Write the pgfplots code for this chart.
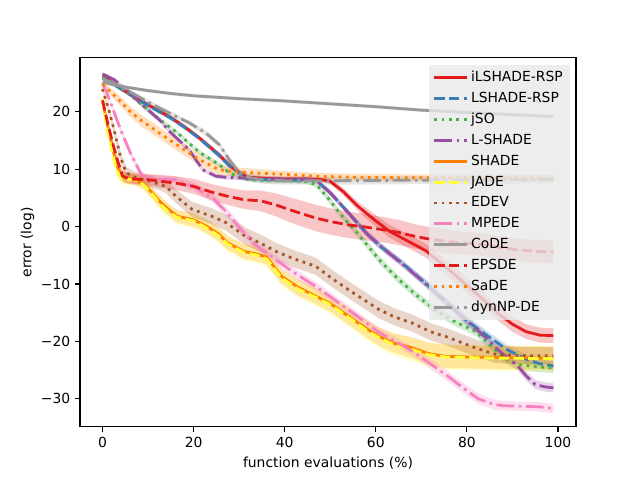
\documentclass[border=0pt]{standalone}
\usepackage{pgfplots}
\pgfplotsset{compat=1.18}
\usepackage{pgfplotstable}
\usepgfplotslibrary{fillbetween}
\usepackage{fontspec}
\setmainfont{DejaVu Sans}
\definecolor{cred}{HTML}{E41A1C}
\definecolor{cblue}{HTML}{377EB8}
\definecolor{cgreen}{HTML}{4DAF4A}
\definecolor{cpurple}{HTML}{984EA3}
\definecolor{corange}{HTML}{FF7F00}
\definecolor{cyellow}{HTML}{FFFF33}
\definecolor{cbrown}{HTML}{A65628}
\definecolor{cpink}{HTML}{F781BF}
\definecolor{cgray}{HTML}{999999}

\pgfplotstableread{
x y e
0 26.3 0.3
5 23.6 0.4
9.6 21.4 0.4
15 19.0 0.4
18 17.4 0.4
21.2 15.5 0.4
25.6 12.5 0.5
28 10.6 0.5
30 9.4 0.5
32 8.6 0.4
36 8.4 0.4
40 8.3 0.4
45 8.3 0.4
48 8.2 0.4
50 7.9 0.5
53 6.0 0.6
56 3.6 0.8
60 1.0 1.0
63 -0.8 1.1
67 -2.5 1.2
71 -4.2 1.2
75 -6.8 1.3
80 -10.2 1.3
84 -13.0 1.3
87 -15.2 1.3
90 -17.0 1.3
93 -18.3 1.3
96 -18.9 1.3
99 -19.0 1.3
}\tA
\pgfplotstableread{
x y e
0 26.0 0.3
5 23.5 0.4
9.6 21.3 0.4
15 18.9 0.4
18 17.3 0.4
21.2 15.4 0.4
25.6 12.4 0.5
28 10.5 0.5
30 9.3 0.5
32 8.5 0.4
36 8.2 0.4
40 8.1 0.4
45 8.1 0.4
47 8.0 0.4
50 5.9 0.5
54 2.4 0.5
58 -1.2 0.6
61 -3.4 0.6
66 -6.5 0.6
71 -9.9 0.7
75 -12.8 0.7
80 -16.4 0.8
85 -19.3 0.8
89 -21.5 0.8
93 -23.1 0.8
96 -23.9 0.8
99 -24.3 0.8
}\tB
\pgfplotstableread{
x y e
0 26.0 0.3
3 24.8 0.3
5.5 23.3 0.3
9 21.0 0.4
12.8 18.5 0.4
16.8 16.1 0.4
18.6 14.8 0.4
21.2 13.0 0.4
25.6 10.8 0.4
27.5 9.6 0.4
29.6 8.7 0.4
32 8.2 0.4
36 8.0 0.4
40 8.0 0.4
43 7.9 0.4
45 7.8 0.4
47 7.3 0.5
50 4.5 0.6
52 2.4 0.6
55 -0.3 0.6
58 -3.1 0.7
61 -6.0 0.7
65 -9.2 0.7
69 -12.0 0.7
73 -14.5 0.7
77 -16.4 0.8
82 -18.3 0.8
85 -20.6 0.8
88 -22.8 0.9
91 -24.0 0.9
95 -24.4 0.9
99 -24.6 0.9
}\tC
\pgfplotstableread{
x y e
0 26.6 0.3
2.6 25.6 0.3
6 23.3 0.4
9 21.0 0.4
12.5 18.6 0.4
14.7 16.6 0.4
19 13.4 0.4
22 9.9 0.4
24.9 8.8 0.4
27 8.6 0.4
30 8.5 0.4
35 8.3 0.4
40 8.3 0.4
45 8.3 0.4
47 8.0 0.4
50 5.9 0.5
54 2.4 0.5
58 -1.2 0.5
61 -3.4 0.6
66 -6.6 0.6
71 -10.0 0.6
75 -12.9 0.7
80 -16.4 0.7
84.7 -19.7 0.8
87 -21.6 0.8
91.2 -24.3 0.8
93 -26.0 0.8
95 -27.5 0.8
97 -27.9 0.8
99 -28.1 0.8
}\tD
\pgfplotstableread{
x y e
0 22.0 0.5
1 18.0 0.8
2 14.5 1.0
3 11.0 1.0
4 9.0 1.0
5 8.5 1.0
7 8.3 1.0
9 7.5 1.0
11 5.8 1.0
12.8 4.2 1.0
14.5 3.0 1.0
16.4 1.8 1.1
20 1.2 1.2
23 0.0 1.2
25.5 -1.3 1.2
27.4 -2.8 1.2
31 -4.3 1.3
34 -4.8 1.3
36 -5.3 1.3
39.4 -8.7 1.3
43 -10.6 1.4
46.8 -12.1 1.4
50 -13.4 1.4
54 -15.6 1.5
58 -17.8 1.5
60.6 -19.1 1.6
64 -20.3 1.7
67.9 -21.1 1.8
71.5 -22.1 1.9
75.2 -22.6 2.0
85 -22.8 2.0
99 -22.9 2.0
}\tE
\pgfplotstableread{
x y e
0 22.3 0.5
1 17.0 0.8
2 13.5 1.0
3 10.0 1.0
4 8.5 1.0
5 8.2 1.0
7 8.2 1.0
9 7.3 1.0
11 5.6 1.1
12.8 3.8 1.2
14.5 2.6 1.2
16.4 1.6 1.2
20 1.0 1.2
23 -0.3 1.2
25.5 -1.6 1.3
27.4 -3.0 1.3
31 -4.5 1.4
34 -5.0 1.4
36 -5.6 1.4
39.4 -9.0 1.4
43 -10.9 1.5
46.8 -12.3 1.5
50 -13.6 1.6
54 -15.8 1.6
58 -18.1 1.7
60.6 -19.3 1.8
64 -20.6 1.9
67.9 -21.4 2.0
71.5 -22.3 2.1
75.2 -22.7 2.2
85 -22.9 2.2
99 -23.0 2.2
}\tF
\pgfplotstableread{
x y e
0 24.0 0.4
1.5 20.0 0.6
2.6 16.6 0.8
4 12.0 0.9
5.2 9.4 1.0
7 8.6 1.0
8.8 8.2 1.0
11 7.8 1.0
13.9 7.0 1.1
16.1 5.3 1.2
19.7 3.0 1.3
24 1.8 1.4
27.1 0.7 1.4
31.4 -1.7 1.5
35 -3.0 1.5
38 -4.3 1.5
42 -5.6 1.5
46.8 -6.9 1.5
50 -8.8 1.5
54 -11.0 1.5
57.5 -12.8 1.5
60.6 -14.4 1.5
64 -15.7 1.5
68 -16.8 1.5
72 -18.3 1.5
75.9 -19.3 1.5
78.8 -20.2 1.5
82.5 -21.3 1.5
86 -22.2 1.5
90.5 -22.4 1.5
95 -22.5 1.5
99 -22.5 1.5
}\tG
\pgfplotstableread{
x y e
0 25.0 0.4
1.1 23.0 0.5
2.5 20.0 0.6
4.1 16.6 0.6
6.3 12.5 0.6
8.5 9.1 0.6
10 8.4 0.6
13 8.3 0.6
15.8 8.2 0.6
20.1 7.0 0.7
24.5 4.7 0.7
27.4 2.4 0.8
30.4 -0.5 0.8
33.3 -3.0 0.8
37.6 -5.5 0.8
42 -8.0 0.8
46.8 -10.4 0.8
50 -12.2 0.8
54 -14.5 0.8
58 -16.8 0.8
60.6 -18.4 0.8
65 -20.3 0.8
68.6 -22.0 0.8
71.6 -23.7 0.9
75.9 -26.1 0.9
79 -28.0 0.9
82.5 -30.0 0.9
86 -31.0 0.9
88 -31.2 0.8
92 -31.3 0.8
96 -31.4 0.8
99 -31.7 0.8
}\tH
\pgfplotstableread{
x y e
0 25.2 0.4
3 24.6 0.3
6 24.2 0.3
10 23.7 0.3
15 23.2 0.3
20 22.8 0.3
30 22.3 0.3
40 21.9 0.3
50 21.4 0.3
60 20.9 0.3
70 20.3 0.3
80 19.9 0.3
90 19.5 0.3
99 19.2 0.3
}\tI
\pgfplotstableread{
x y e
0 22.0 0.5
1 18.5 0.6
2.2 14.6 0.7
3.3 11.5 0.8
4.4 8.8 0.9
6 8.3 0.9
10 8.2 1.0
12.8 7.9 1.1
16 7.6 1.2
20.1 7.0 1.3
24 6.0 1.4
27.4 5.3 1.5
31 4.7 1.6
34.7 4.5 1.8
38 3.8 2.0
42 2.7 2.2
46.8 1.5 2.3
50 0.9 2.3
54 0.3 2.3
58 -0.1 2.3
61.3 -0.5 2.2
65 -1.0 2.2
68.6 -1.7 2.1
72 -2.2 2.1
75.9 -2.6 2.1
80 -2.9 2.0
83.2 -3.1 2.0
87 -3.6 2.0
90.5 -4.0 2.0
95 -4.3 2.0
99 -4.4 2.0
}\tJ
\pgfplotstableread{
x y e
0 24.8 0.5
2 23.3 0.7
4 21.8 0.8
6 20.1 0.9
8.5 18.5 1.0
12.5 16.3 1.0
16.8 14.0 1.0
21.2 11.7 1.0
25.6 9.9 0.9
30 9.5 0.8
34.7 9.3 0.7
40 9.1 0.6
46.8 8.8 0.6
55 8.6 0.6
70 8.5 0.6
85 8.5 0.6
99 8.4 0.6
}\tK
\pgfplotstableread{
x y e
0 25.8 0.4
3 24.8 0.4
6 23.5 0.4
10 21.7 0.4
15.4 19.5 0.4
19 18.1 0.4
22.7 16.3 0.5
25.6 14.3 0.5
27.8 11.7 0.6
30 9.4 0.6
32 8.6 0.7
35 8.2 0.7
40 8.0 0.7
50 8.0 0.7
70 8.1 0.7
99 8.2 0.7
}\tL

\newcommand\band[3]{%
  \addplot[draw=none, forget plot, name path=#2u] table[x=x, y expr=\thisrow{y}+\thisrow{e}] {#1};
  \addplot[draw=none, forget plot, name path=#2l] table[x=x, y expr=\thisrow{y}-\thisrow{e}] {#1};
  \addplot[fill=#3, fill opacity=0.25, draw=none, forget plot] fill between[of=#2u and #2l];
}

\tikzset{
  mplsolid/.style={solid},
  mpldashed/.style={dash pattern=on 7.4pt off 3.2pt},
  mpldotted/.style={dash pattern=on 2pt off 3.3pt},
  mpldashdot/.style={dash pattern=on 12.8pt off 3.2pt on 2pt off 3.2pt},
}

\begin{document}
\begin{tikzpicture}
\begin{axis}[
  at={(57.6pt,38.2pt)}, anchor=south west,
  scale only axis, width=357.1pt, height=265.7pt,
  xmin=-4.95, xmax=103.95, ymin=-34.9, ymax=29.4,
  xtick={0,20,40,60,80,100}, xticklabels={0,20,40,60,80,100},
  ytick={-30,-20,-10,0,10,20}, yticklabels={−30,−20,−10,0,10,20},
  xtick pos=bottom, ytick pos=left,
  tick align=outside, major tick length=3.5pt,
  every tick/.style={black, line width=0.8pt},
  axis line style={line width=0.8pt},
  tick label style={font=\fontsize{10}{12}\selectfont},
  label style={font=\fontsize{10}{12}\selectfont},
  xlabel={function evaluations (\%)}, ylabel={error (log)},
  xlabel style={yshift=0pt}, ylabel style={yshift=-2pt},
  every axis plot/.append style={line width=2pt},
  legend image code/.code={\draw[#1] (0pt,0pt) -- (22pt,0pt); \path (22pt,0pt) -- (23.5pt,0pt);},
  legend cell align=left,
  legend style={at={(1,1)}, anchor=north east, xshift=-4.3pt, yshift=-5pt,
    fill=black!9, fill opacity=0.8, text opacity=1, draw=none,
    font=\fontsize{10}{12}\selectfont,
    row sep=2.1pt, inner xsep=3pt, inner ysep=2.5pt},
]
\band{\tA}{a}{cred}
\addplot[cred, mplsolid] table[x=x,y=y] {\tA};
\addlegendentry{iLSHADE-RSP}
\band{\tB}{b}{cblue}
\addplot[cblue, mpldashed] table[x=x,y=y] {\tB};
\addlegendentry{LSHADE-RSP}
\band{\tC}{c}{cgreen}
\addplot[cgreen, mpldotted] table[x=x,y=y] {\tC};
\addlegendentry{jSO}
\band{\tD}{d}{cpurple}
\addplot[cpurple, mpldashdot] table[x=x,y=y] {\tD};
\addlegendentry{L-SHADE}
\band{\tE}{e}{corange}
\addplot[corange, mplsolid] table[x=x,y=y] {\tE};
\addlegendentry{SHADE}
\band{\tF}{f}{cyellow}
\addplot[cyellow, mpldashed] table[x=x,y=y] {\tF};
\addlegendentry{JADE}
\band{\tG}{g}{cbrown}
\addplot[cbrown, mpldotted] table[x=x,y=y] {\tG};
\addlegendentry{EDEV}
\band{\tH}{h}{cpink}
\addplot[cpink, mpldashdot] table[x=x,y=y] {\tH};
\addlegendentry{MPEDE}
\band{\tI}{i}{cgray}
\addplot[cgray, mplsolid] table[x=x,y=y] {\tI};
\addlegendentry{CoDE}
\band{\tJ}{j}{cred}
\addplot[cred, mpldashed] table[x=x,y=y] {\tJ};
\addlegendentry{EPSDE}
\band{\tK}{k}{corange}
\addplot[corange, mpldotted] table[x=x,y=y] {\tK};
\addlegendentry{SaDE}
\band{\tL}{l}{cgray}
\addplot[cgray, mpldashdot] table[x=x,y=y] {\tL};
\addlegendentry{dynNP-DE}
\end{axis}
\path (0,0) rectangle (460.8pt,345.6pt);
\end{tikzpicture}
\end{document}
